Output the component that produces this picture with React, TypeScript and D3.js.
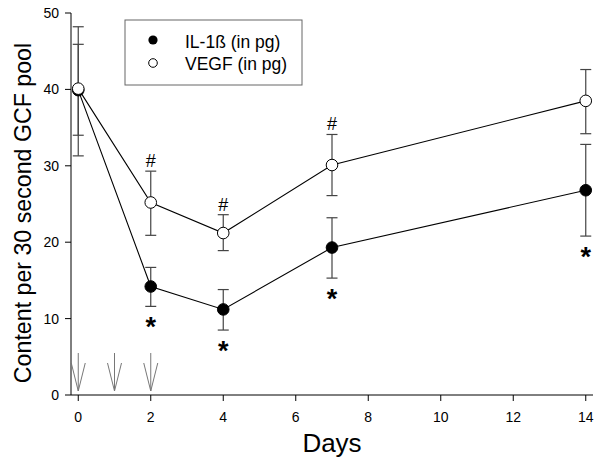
import React from "react";
import * as d3 from "d3";

const days = [0, 2, 4, 7, 14];
const il1b = [39.9, 14.2, 11.2, 19.3, 26.8];
const il1bLow = [34.0, 11.6, 8.5, 15.3, 20.8];
const il1bHigh = [45.9, 16.7, 13.8, 23.2, 32.8];
const vegf = [40.1, 25.2, 21.2, 30.1, 38.5];
const vegfLow = [31.3, 20.9, 18.9, 26.1, 34.2];
const vegfHigh = [48.2, 29.3, 23.6, 34.1, 42.6];
const hashDays = [2, 4, 7];
const starDays = [2, 4, 7, 14];
const arrowDays = [0, 1, 2];
const xTicks = [0, 2, 4, 6, 8, 10, 12, 14];
const yTicks = [0, 10, 20, 30, 40, 50];

export default function App() {
  const W = 602, H = 466;
  const x = d3.scaleLinear().domain([-0.2, 14.2]).range([71, 593]);
  const y = d3.scaleLinear().domain([0, 50]).range([395, 13]);
  const font = "Liberation Sans, Arial, sans-serif";
  const line = d3.line<number>().x((_, i) => x(days[i])).y((d) => y(d));
  const idx = (d: number) => days.indexOf(d);
  const capW = 5.5;
  const errColor = "#444";

  const errBars = (lo: number[], hi: number[], key: string) =>
    days.map((d, i) => (
      <g key={key + i} stroke={errColor} strokeWidth={1.2}>
        <line x1={x(d)} x2={x(d)} y1={y(lo[i])} y2={y(hi[i])} />
        <line x1={x(d) - capW} x2={x(d) + capW} y1={y(lo[i])} y2={y(lo[i])} />
        <line x1={x(d) - capW} x2={x(d) + capW} y1={y(hi[i])} y2={y(hi[i])} />
      </g>
    ));

  return (
    <svg width={W} height={H} style={{ position: "absolute", left: 0, top: 0 }}>
      <rect width={W} height={H} fill="white" />
      {/* axes */}
      <line x1={71} x2={71} y1={y(50)} y2={y(0)} stroke="#000" strokeWidth={1} />
      <line x1={71} x2={593} y1={y(0)} y2={y(0)} stroke="#000" strokeWidth={1} />
      {yTicks.map((t) => (
        <g key={"yt" + t}>
          <line x1={65} x2={71} y1={y(t)} y2={y(t)} stroke="#000" />
          <text x={59} y={y(t) + 5} textAnchor="end" fontSize={14} fontFamily={font}>{t}</text>
        </g>
      ))}
      {xTicks.map((t) => (
        <g key={"xt" + t}>
          <line x1={x(t)} x2={x(t)} y1={395} y2={401} stroke="#000" />
          <text x={x(t)} y={422} textAnchor="middle" fontSize={14} fontFamily={font}>{t}</text>
        </g>
      ))}
      <text x={332} y={452} textAnchor="middle" fontSize={26} fontFamily={font}>Days</text>
      <text transform={`translate(31,213) rotate(-90)`} textAnchor="middle" fontSize={23.2} fontFamily={font}>
        Content per 30 second GCF pool
      </text>
      {/* arrows */}
      {arrowDays.map((d) => (
        <g key={"ar" + d} stroke="#777" strokeWidth={1} fill="none">
          <line x1={x(d)} x2={x(d)} y1={353} y2={391} />
          <polyline points={`${x(d) - 7},363 ${x(d)},391 ${x(d) + 7},363`} />
        </g>
      ))}
      {/* lines */}
      <path d={line(il1b) || ""} fill="none" stroke="#000" strokeWidth={1.1} />
      <path d={line(vegf) || ""} fill="none" stroke="#000" strokeWidth={1.1} />
      {errBars(il1bLow, il1bHigh, "e1")}
      {errBars(vegfLow, vegfHigh, "e2")}
      {days.map((d, i) => (
        <circle key={"c1" + i} cx={x(d)} cy={y(il1b[i])} r={5.8} fill="#000" stroke="#000" />
      ))}
      {days.map((d, i) => (
        <circle key={"c2" + i} cx={x(d)} cy={y(vegf[i])} r={5.8} fill="#fff" stroke="#000" strokeWidth={1} />
      ))}
      {hashDays.map((d) => (
        <text key={"h" + d} x={x(d)} y={y(vegfHigh[idx(d)]) - 4} textAnchor="middle" fontSize={18} fontFamily={font}>#</text>
      ))}
      {starDays.map((d) => (
        <text key={"s" + d} x={x(d)} y={y(il1bLow[idx(d)]) + 30} textAnchor="middle" fontSize={27} fontWeight="bold" fontFamily={font}>*</text>
      ))}
      {/* legend */}
      <rect x={125} y={20} width={177} height={65} fill="#fff" stroke="#666" strokeWidth={1} />
      <circle cx={153} cy={40} r={4.6} fill="#000" />
      <circle cx={153} cy={63} r={4.3} fill="#fff" stroke="#000" />
      <text x={185} y={48} fontSize={17.5} fontFamily={font}>IL-1ß (in pg)</text>
      <text x={185} y={70} fontSize={17.5} fontFamily={font}>VEGF (in pg)</text>
    </svg>
  );
}
